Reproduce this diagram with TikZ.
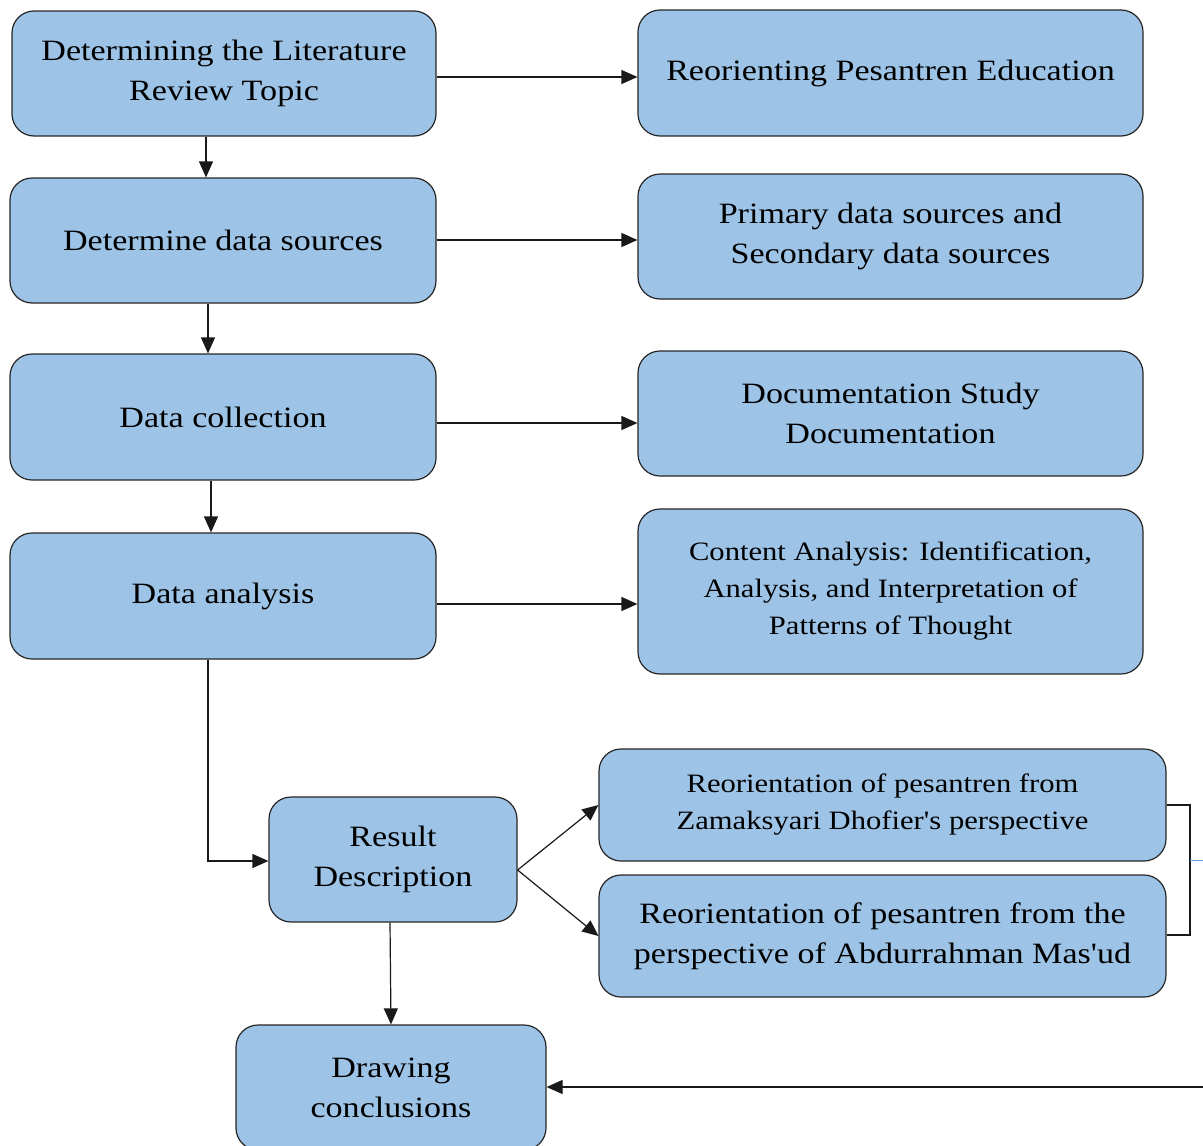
\documentclass[tikz,border=0pt]{standalone}
\usepackage{fontspec}
\setmainfont{Liberation Serif}[FakeStretch=1.155,Ligatures=TeXOff]
\usetikzlibrary{arrows.meta,calc}
\definecolor{boxblue}{HTML}{9DC3E6}
\definecolor{lineblue}{HTML}{5B9BD5}
\tikzset{
  box/.style={draw=black!85, fill=boxblue, rounded corners=22pt, line width=1.2pt, align=center, inner sep=0pt},
  big/.style={font=\fontsize{29.5}{40}\selectfont},
  small/.style={font=\fontsize{26.5}{37}\selectfont},
  arr/.style={line width=1.2pt, draw=black!90, -{Triangle[length=16pt,width=14pt]}},
  ln/.style={line width=1.2pt, draw=black!90},
}
\begin{document}
\begin{tikzpicture}[x=1pt,y=-1pt]
\useasboundingbox (0,0) rectangle (1203,1146);
\clip (0,0) rectangle (1203,1146);
\node[box,big,minimum width=424pt,minimum height=125pt] (n1) at (224,73.5) {Determining the Literature\\Review Topic};
\node[box,big,minimum width=505pt,minimum height=126pt] (n2) at (890.5,73) {Reorienting Pesantren Education};
\node[box,big,minimum width=426pt,minimum height=125pt] (n3) at (223,240.5) {Determine data sources};
\node[box,big,minimum width=505pt,minimum height=125pt] (n4) at (890.5,236.5) {Primary data sources and\\Secondary data sources};
\node[box,big,minimum width=426pt,minimum height=126pt] (n5) at (223,417) {Data collection};
\node[box,big,minimum width=505pt,minimum height=125pt] (n6) at (890.5,413.5) {Documentation Study\\Documentation};
\node[box,big,minimum width=426pt,minimum height=126pt] (n7) at (223,596) {Data analysis};
\node[box,small,minimum width=505pt,minimum height=165pt] (n8) at (890.5,591.5) {Content Analysis: Identification,\\Analysis, and Interpretation of\\Patterns of Thought};
\node[box,big,minimum width=248pt,minimum height=125pt] (n9) at (393,859.5) {Result\\Description};
\node[box,small,minimum width=567pt,minimum height=112pt] (n10) at (882.5,805) {Reorientation of pesantren from\\Zamaksyari Dhofier's perspective};
\node[box,big,minimum width=567pt,minimum height=122pt] (n11) at (882.5,936) {Reorientation of pesantren from the\\perspective of Abdurrahman Mas'ud};
\node[box,big,minimum width=310pt,minimum height=125pt] (n12) at (391,1087.5) {Drawing\\conclusions};
\coordinate (b1) at (1190,805);
\coordinate (b2) at (1190,935);
\coordinate (bm) at (1190,860);
\coordinate (be) at (1203,860);
\coordinate (ce) at (1203,1087);
% arrows
\draw[arr] (n1.east |- 0,77) -- (n2.west |- 0,77);
\draw[arr] (206,0 |- n1.south) -- (206,0 |- n3.north);
\draw[arr] (n3.east |- 0,240) -- (n4.west |- 0,240);
\draw[arr] (208,0 |- n3.south) -- (208,0 |- n5.north);
\draw[arr] (n5.east |- 0,423) -- (n6.west |- 0,423);
\draw[arr] (211,0 |- n5.south) -- (211,0 |- n7.north);
\draw[arr] (n7.east |- 0,604) -- (n8.west |- 0,604);
\draw[arr] (208,0 |- n7.south) -- (208,861) -- (n9.west |- 0,861);
\draw[arr] (n9.east |- 0,870) -- (n10.west |- 0,805);
\draw[arr] (n9.east |- 0,870) -- (n11.west |- 0,936);
\draw[arr] (390,0 |- n9.south) -- (391,0 |- n12.north);
\draw[ln] (n10.east |- b1) -- (b1) -- (b2) -- (n11.east |- b2);
\draw[line width=1pt, draw=lineblue] (bm) -- (be);
\draw[arr] (ce) -- (n12.east |- ce);
\end{tikzpicture}
\end{document}
